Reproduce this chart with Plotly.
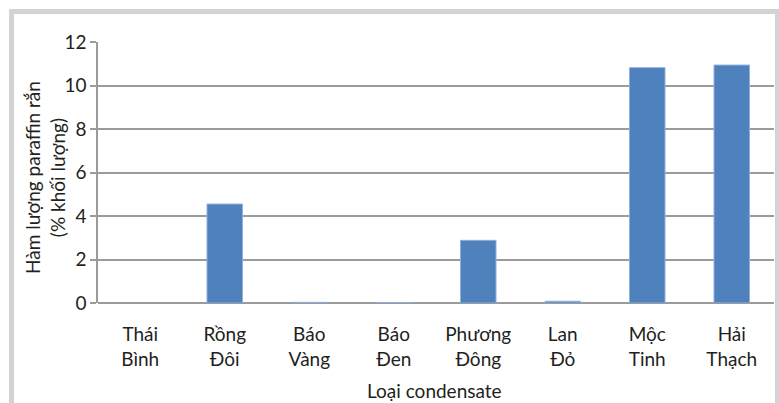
import plotly.graph_objects as go

categories = ["Thái<br>Bình", "Rồng<br>Đôi", "Báo<br>Vàng", "Báo<br>Đen",
              "Phương<br>Đông", "Lan<br>Đỏ", "Mộc<br>Tinh", "Hải<br>Thạch"]
values = [0.0, 4.55, 0.03, 0.02, 2.88, 0.08, 10.82, 10.94]
y_ticks = [0, 2, 4, 6, 8, 10, 12]

FONT = "Lato"
FS = 19
TXT = "#231f20"
GRID = "#9b9b9b"

fig = go.Figure()
fig.add_trace(go.Bar(
    x=categories, y=values,
    marker=dict(color="#4f81bd",
                line=dict(color="#8fb0dc", width=[0 if v == 0 else 1 for v in values])),
    width=0.42,
))

W, H = 779, 403
L, R, T, B = 98, 5, 42, 100
pw, ph = W - L - R, H - T - B

def px_x(x):
    return (x - L) / pw

def px_y(y):
    return (H - B - y) / ph

fig.update_layout(
    width=W, height=H,
    margin=dict(l=L, r=R, t=T, b=B),
    paper_bgcolor="white", plot_bgcolor="white",
    showlegend=False,
    font=dict(family=FONT, size=FS, color=TXT),
    xaxis=dict(
        type="category", showgrid=False, showline=False, ticks="",
        tickfont=dict(family=FONT, size=FS, color=TXT),
        ticklabelstandoff=18,
    ),
    yaxis=dict(
        range=[0, 12], tickvals=y_ticks, showgrid=True, gridcolor=GRID, gridwidth=1.5,
        zeroline=True, zerolinecolor=GRID, zerolinewidth=1.5,
        showline=True, linecolor=GRID, linewidth=1.5,
        ticks="outside", ticklen=6, tickcolor=GRID, tickwidth=1.5,
        tickfont=dict(family=FONT, size=FS, color=TXT),
    ),
    shapes=[dict(
        type="rect", xref="paper", yref="paper",
        x0=px_x(11.5), x1=px_x(777.5), y0=px_y(430), y1=px_y(11.5),
        line=dict(color="#d3d3d3", width=5), fillcolor="rgba(0,0,0,0)", layer="below",
    )],
    annotations=[
        dict(text="Hàm lượng paraffin rắn<br>(% khối lượng)", textangle=-90,
             xref="paper", yref="paper", x=px_x(45), y=px_y(178),
             xanchor="center", yanchor="middle", showarrow=False,
             font=dict(family=FONT, size=FS, color=TXT)),
        dict(text="Loại condensate",
             xref="paper", yref="paper", x=px_x(434), y=px_y(390),
             xanchor="center", yanchor="middle", showarrow=False,
             font=dict(family=FONT, size=FS, color=TXT)),
    ],
)

fig.write_html("out.html")
